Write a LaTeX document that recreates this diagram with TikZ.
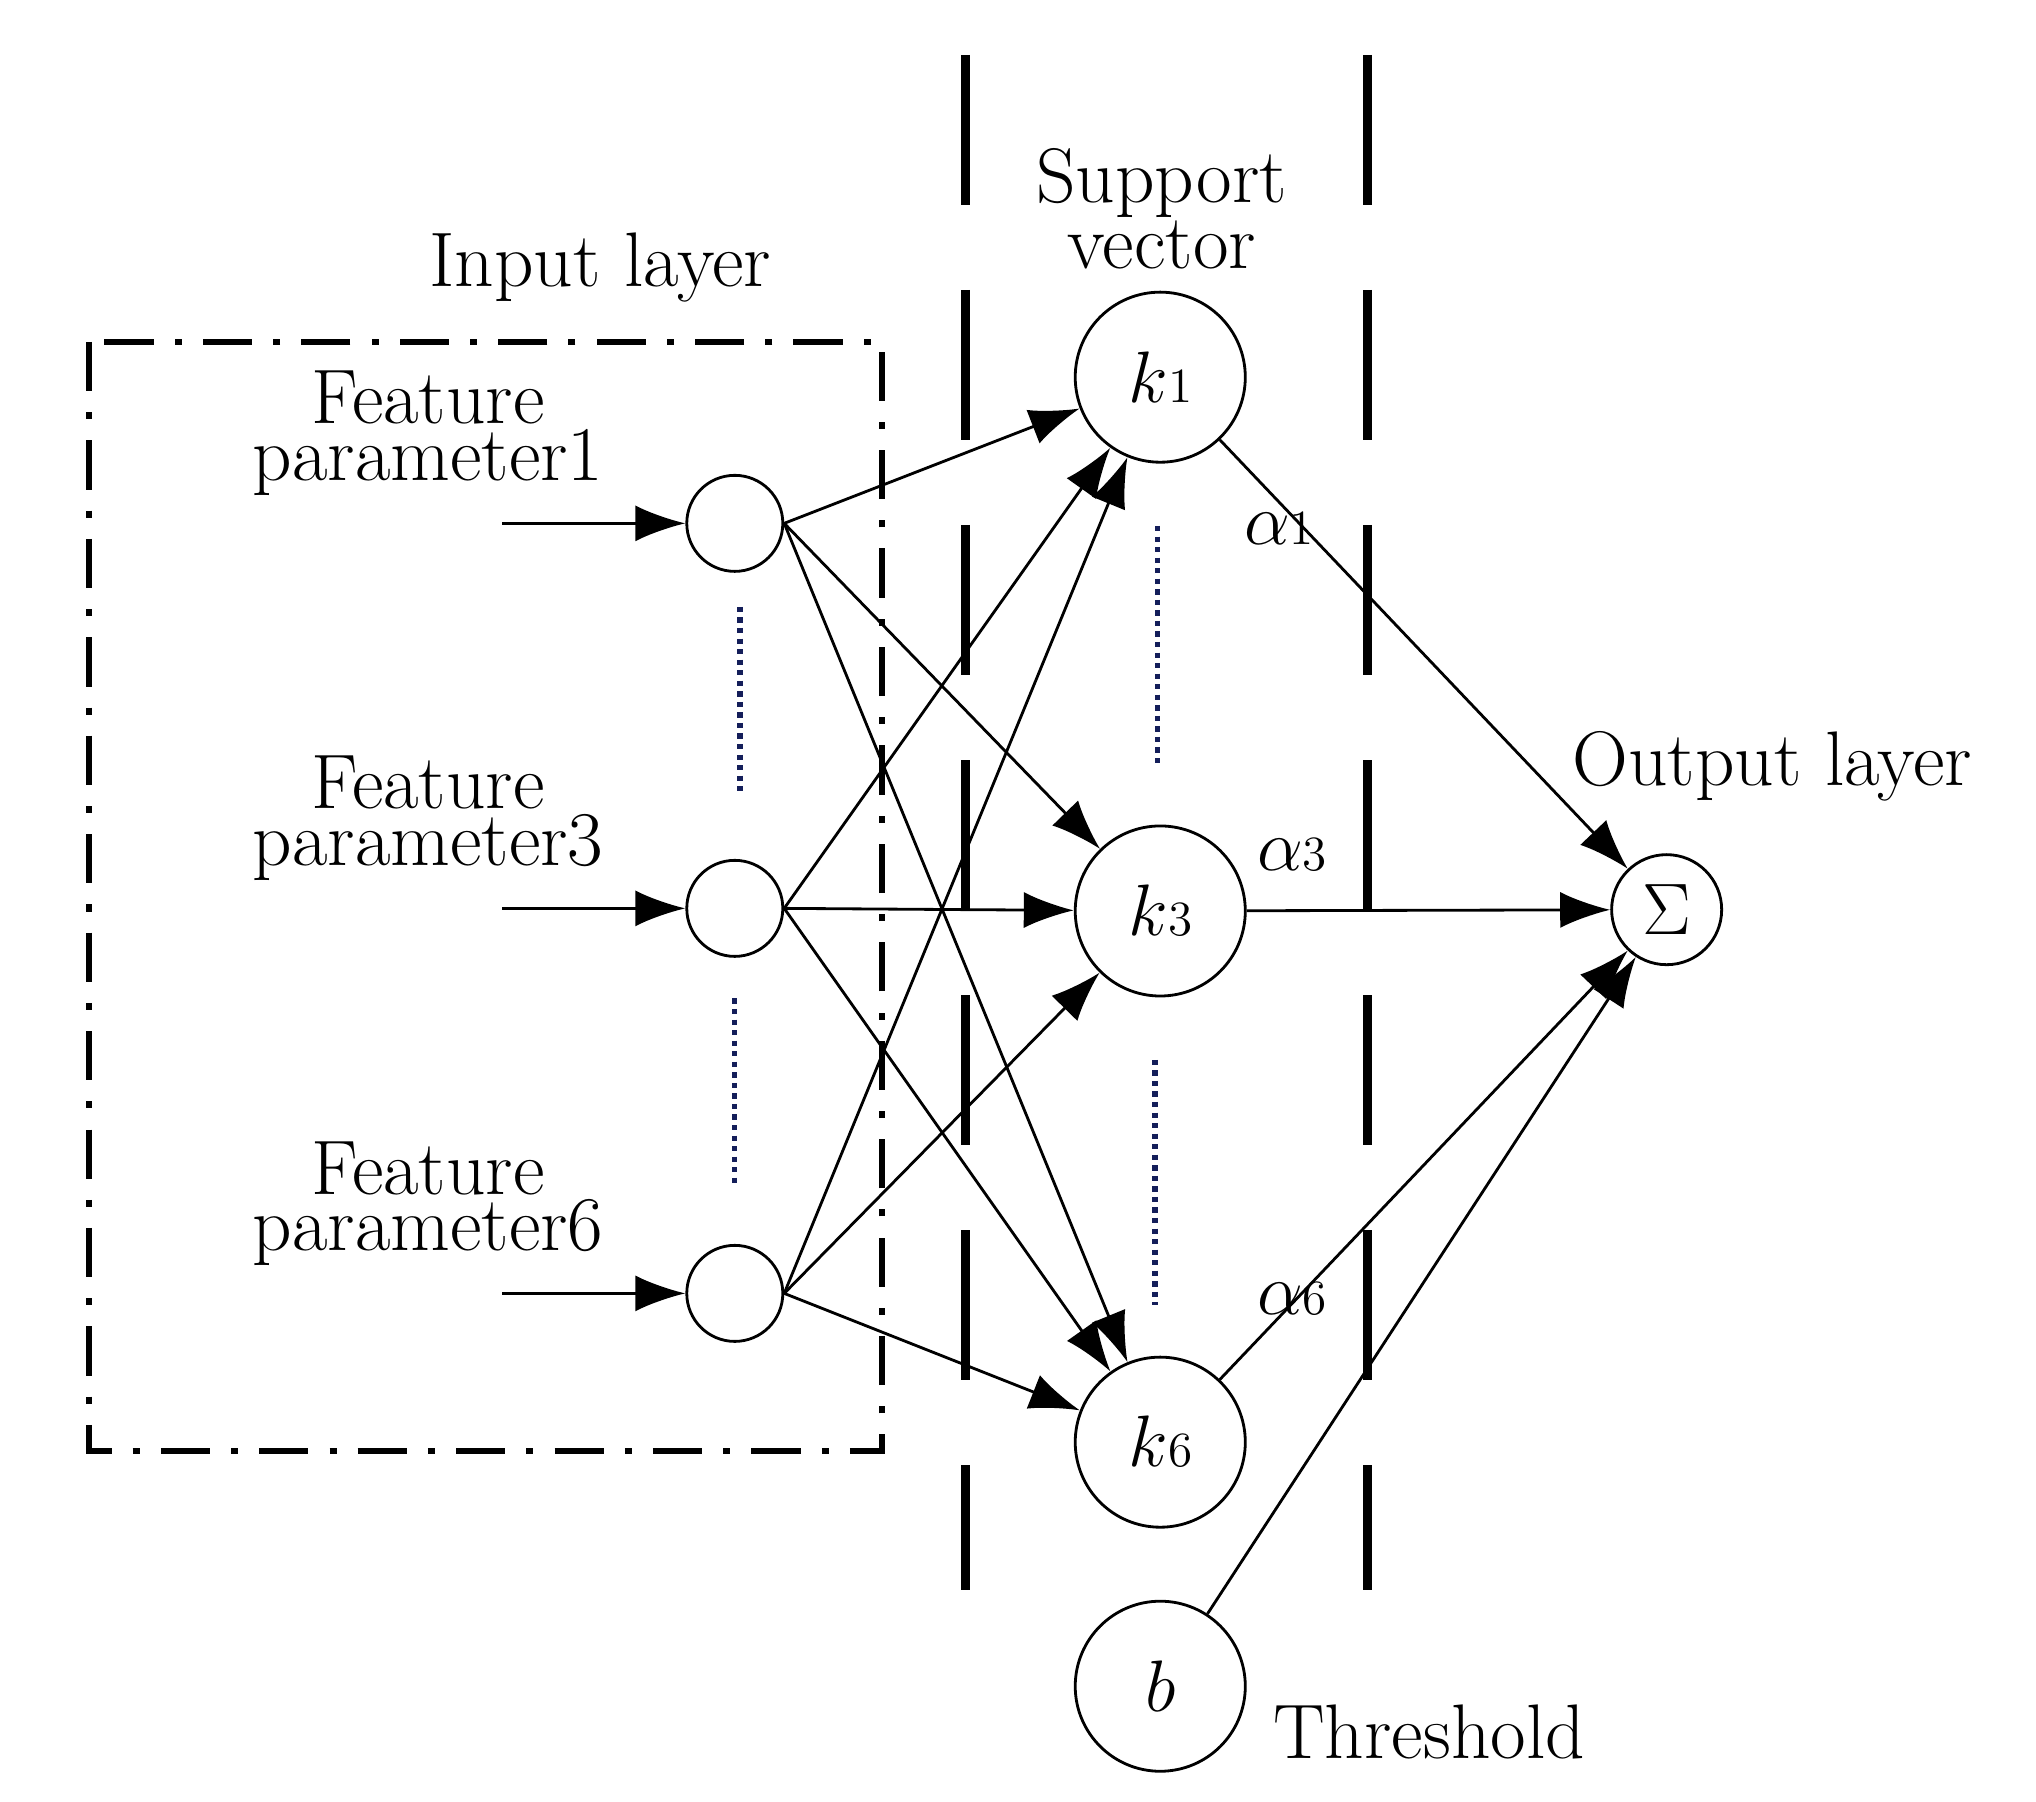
\documentclass[tikz,border=0pt]{standalone}
\usetikzlibrary{arrows.meta}
\tikzset{
  neuron/.style={draw, circle, thick, minimum size=#1, inner sep=0pt},
  conn/.style={thick, -{Latex[length=0.5cm,width=0.36cm]}},
  lbl/.style={font=\fontsize{22}{16}\selectfont, align=center},
  sep/.style={line width=2.6pt, dash pattern=on 1.5cm off 0.85cm},
  dots/.style={line width=1.5pt, dash pattern=on 1.5pt off 1.5pt, draw={rgb,255:red,20;green,30;blue,90}}
}
\newcommand\subn[1]{{\fontsize{14}{14}\selectfont #1}}
\begin{document}
\begin{tikzpicture}[x=0.01305cm, y=-0.01305cm]
  \useasboundingbox (0,0) rectangle (1560,1380);

  \draw[line width=1.8pt, dash pattern=on 14pt off 6pt on 2pt off 6pt] (68,262) rectangle (676,1112);
  \draw[sep] (740,42) -- (740,1218);
  \draw[sep] (1048,42) -- (1048,1218);

  \node[neuron=0.96cm] (i1) at (563,401) {};
  \node[neuron=0.96cm] (i3) at (563,696) {};
  \node[neuron=0.96cm] (i6) at (563,991) {};
  \node[neuron=1.7cm, lbl] (k1) at (889,289) {$k$\subn{1}};
  \node[neuron=1.7cm, lbl] (k3) at (889,698) {$k$\subn{3}};
  \node[neuron=1.7cm, lbl] (k6) at (889,1105) {$k$\subn{6}};
  \node[neuron=1.7cm, lbl] (b) at (889,1292) {$b$};
  \node[neuron=1.1cm, lbl] (s) at (1277,697) {$\Sigma$};

  \foreach \n in {1,3,6} {
    \coordinate (f\n) at (385,{401+(\n>1)*295+(\n>3)*295});
    \draw[conn] (f\n) -- (i\n);
    \node[lbl, inner sep=0pt] at (328,{332+(\n>1)*295+(\n>3)*295}) {Feature\\parameter\n};
    \foreach \k in {1,3,6}
      \draw[conn] (i\n.east) -- (k\k);
  }
  \draw[conn] (k1) -- (s);
  \draw[conn] (k3) -- (s);
  \draw[conn] (k6) -- (s);
  \draw[conn] (b) -- (s);

  \draw[dots] (567,465) -- (567,607);
  \draw[dots] (563,765) -- (563,908);
  \draw[dots] (887,403) -- (887,588);
  \draw[dots] (885,812) -- (885,1000);

  \node[lbl] at (980,405) {$\alpha$\subn{1}};
  \node[lbl] at (990,655) {$\alpha$\subn{3}};
  \node[lbl] at (990,995) {$\alpha$\subn{6}};
  \node[lbl] at (460,205) {Input layer};
  \node[lbl] at (890,160) {Support\\vector};
  \node[lbl] at (1358,587) {Output layer};
  \node[lbl] at (1095,1327) {Threshold};
\end{tikzpicture}
\end{document}
